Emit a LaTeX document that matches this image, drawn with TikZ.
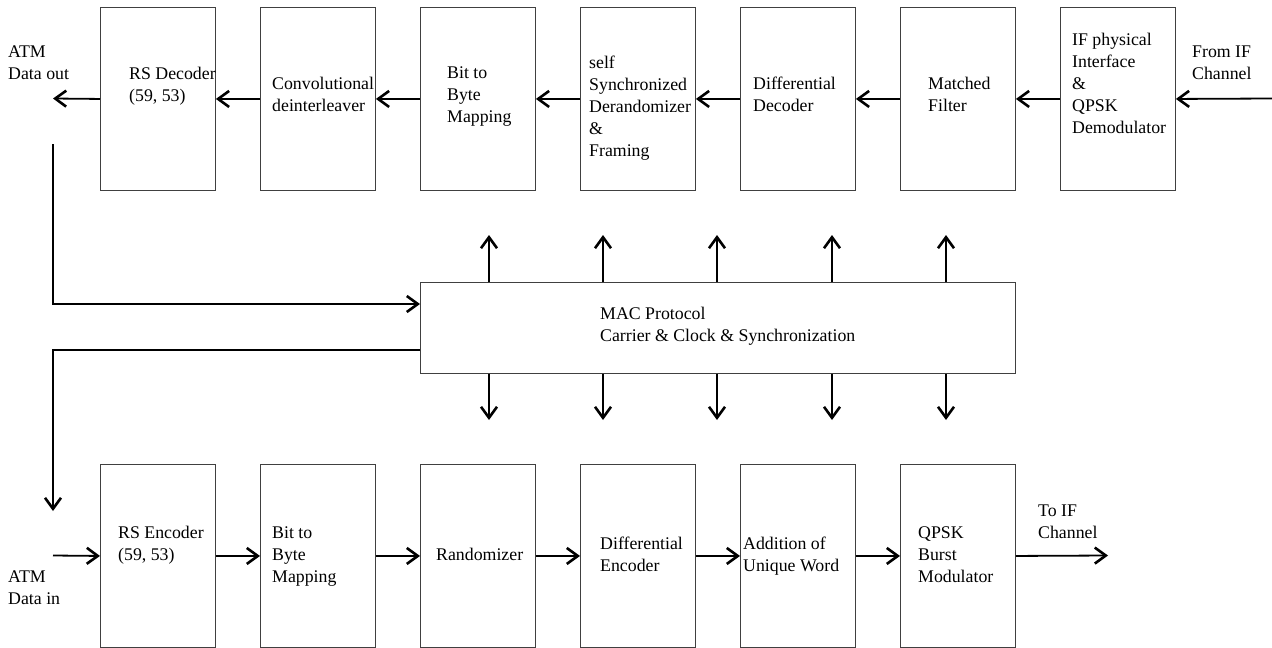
\documentclass[tikz,border=0pt]{standalone}
\usepackage{fontspec}
\setmainfont{Liberation Serif}
\usetikzlibrary{arrows.meta}
\newcommand{\mtext}[1]{\vtop{\baselineskip=22pt\lineskiplimit=-30pt\lineskip=0pt #1}}
\begin{document}
\begin{tikzpicture}[x=1pt,y=-1pt,
  blk/.style={draw=black!75,line width=0.9pt,rectangle,inner sep=0pt,anchor=north west,
    minimum width=115pt,minimum height=183pt},
  macblk/.style={draw=black!75,line width=0.9pt,rectangle,inner sep=0pt,anchor=north west,
    minimum width=595pt,minimum height=91pt},
  lbl/.style={anchor=base west,inner sep=0pt,font=\fontsize{17.8pt}{22pt}\selectfont},
  conn/.style={line width=1.8pt,-{Straight Barb[length=11pt,width=16pt,line width=2.6pt]}},
  plain/.style={line width=1.8pt}]
\useasboundingbox (0,0) rectangle (1272,648);
% top row
\node[blk] (t1) at (100,7) {};
\node[blk] (t2) at (260,7) {};
\node[blk] (t3) at (420,7) {};
\node[blk] (t4) at (580,7) {};
\node[blk] (t5) at (740,7) {};
\node[blk] (t6) at (900,7) {};
\node[blk] (t7) at (1060,7) {};
% bottom row
\node[blk] (b1) at (100,464) {};
\node[blk] (b2) at (260,464) {};
\node[blk] (b3) at (420,464) {};
\node[blk] (b4) at (580,464) {};
\node[blk] (b5) at (740,464) {};
\node[blk] (b6) at (900,464) {};
% MAC
\node[macblk] (mac) at (420,282) {};
% texts
\node[lbl] (l1) at (8,57) {\mtext{\hbox{ATM}\hbox{Data out}}};
\node[lbl] (l2) at (129,79) {\mtext{\hbox{RS Decoder}\hbox{(59, 53)}}};
\node[lbl] (l3) at (272,89) {\mtext{\hbox{Convolutional}\hbox{deinterleaver}}};
\node[lbl] (l4) at (447,78) {\mtext{\hbox{Bit to}\hbox{Byte}\hbox{Mapping}}};
\node[lbl] (l5) at (589,68) {\mtext{\hbox{self}\hbox{Synchronized}\hbox{Derandomizer}\hbox{\&}\hbox{Framing}}};
\node[lbl] (l6) at (753,89) {\mtext{\hbox{Differential}\hbox{Decoder}}};
\node[lbl] (l7) at (928,89) {\mtext{\hbox{Matched}\hbox{Filter}}};
\node[lbl] (l8) at (1072,45) {\mtext{\hbox{IF physical}\hbox{Interface}\hbox{\&}\hbox{QPSK}\hbox{Demodulator}}};
\node[lbl] (l9) at (1192,57) {\mtext{\hbox{From IF}\hbox{Channel}}};
\node[lbl] (lm) at (600,319) {\mtext{\hbox{MAC Protocol}\hbox{Carrier \& Clock \& Synchronization}}};
\node[lbl] (k1) at (8,582) {\mtext{\hbox{ATM}\hbox{Data in}}};
\node[lbl] (k2) at (118,538) {\mtext{\hbox{RS Encoder}\hbox{(59, 53)}}};
\node[lbl] (k3) at (272,538) {\mtext{\hbox{Bit to}\hbox{Byte}\hbox{Mapping}}};
\node[lbl] (k4) at (436,560) {\mtext{\hbox{Randomizer}}};
\node[lbl] (k5) at (600,549) {\mtext{\hbox{Differential}\hbox{Encoder}}};
\node[lbl] (k6) at (743,549) {\mtext{\hbox{Addition of}\hbox{Unique Word}}};
\node[lbl] (k7) at (918,538) {\mtext{\hbox{QPSK}\hbox{Burst}\hbox{Modulator}}};
\node[lbl] (k8) at (1038,516) {\mtext{\hbox{To IF}\hbox{Channel}}};
% coordinates
\coordinate (ifin) at (1272,98.5);
\coordinate (atmout) at (53,98.5);
\coordinate (fbtop) at (53,144);
\coordinate (macin) at (420,304);
\coordinate (macout) at (420,350);
\coordinate (downtip) at (53,511);
\coordinate (atmin) at (53,555.5);
\coordinate (ifout) at (1108,555.5);
% top connectors
\draw[conn] (ifin) -- (t7.east);
\draw[conn] (t7.west) -- (t6.east);
\draw[conn] (t6.west) -- (t5.east);
\draw[conn] (t5.west) -- (t4.east);
\draw[conn] (t4.west) -- (t3.east);
\draw[conn] (t3.west) -- (t2.east);
\draw[conn] (t2.west) -- (t1.east);
\draw[conn] (t1.west) -- (atmout);
% feedback paths
\draw[conn] (fbtop) |- (macin);
\draw[conn] (macout) -| (downtip);
% bottom connectors
\draw[conn] (atmin) -- (b1.west);
\draw[conn] (b1.east) -- (b2.west);
\draw[conn] (b2.east) -- (b3.west);
\draw[conn] (b3.east) -- (b4.west);
\draw[conn] (b4.east) -- (b5.west);
\draw[conn] (b5.east) -- (b6.west);
\draw[conn] (b6.east) -- (ifout);
% MAC arrows
\foreach \xx [count=\i] in {489,603,717,832,946} {
  \coordinate (up\i) at (\xx,235);
  \coordinate (dn\i) at (\xx,420);
  \draw[conn] (mac.north west -| up\i) -- (up\i);
  \draw[conn] (mac.south west -| dn\i) -- (dn\i);
}
\end{tikzpicture}
\end{document}
